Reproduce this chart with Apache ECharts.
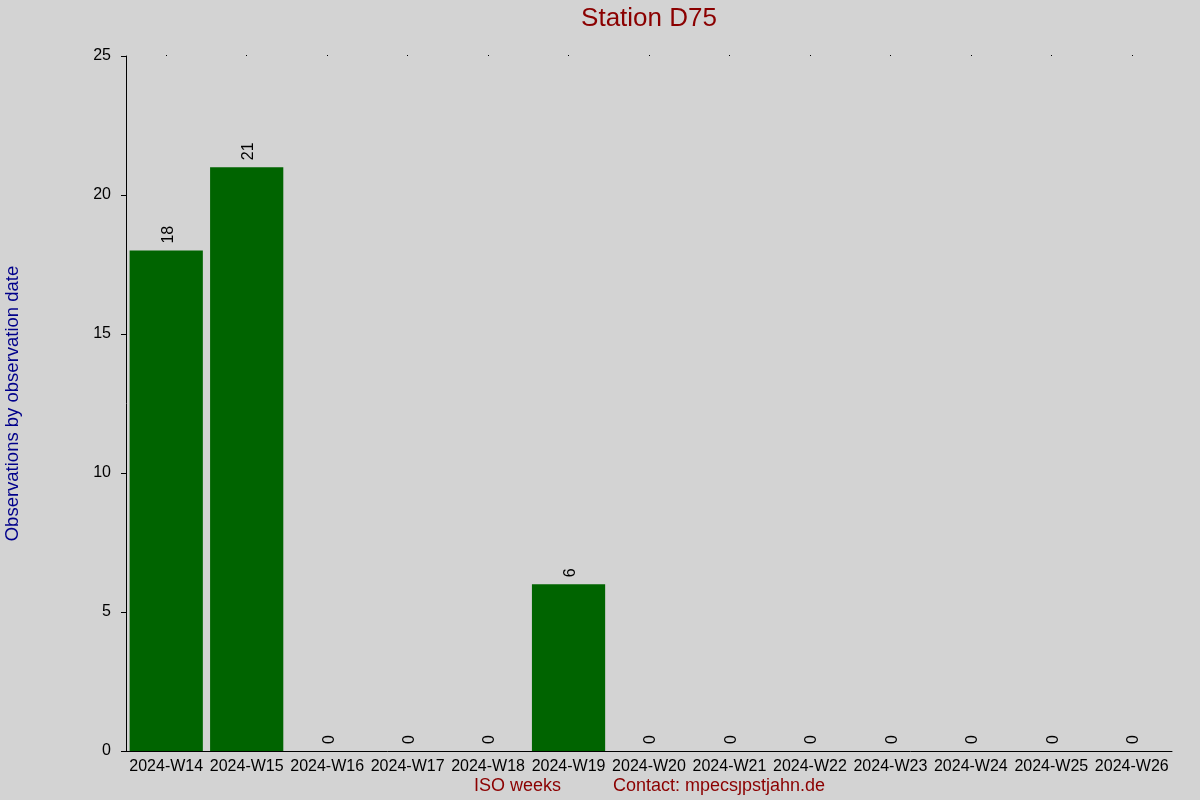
<!DOCTYPE html>
<html>
<head>
<meta charset="utf-8">
<script src="https://cdn.jsdelivr.net/npm/echarts@6/dist/echarts.min.js"></script>
<style>
html,body{margin:0;padding:0;background:#d3d3d3;}
#chart{width:1200px;height:800px;}
</style>
</head>
<body>
<div id="chart"></div>
<script>
const weeks = ["2024-W14","2024-W15","2024-W16","2024-W17","2024-W18","2024-W19","2024-W20","2024-W21","2024-W22","2024-W23","2024-W24","2024-W25","2024-W26"];
const observations = [18,21,0,0,0,6,0,0,0,0,0,0,0];
const yTicks = {min:0, max:25, interval:5};
const titleText = "Station D75";
const yName = "Observations by observation date";
const xName = "ISO weeks";
const contactText = "Contact: mpecs\u0237pstjahn.de";

const chart = echarts.init(document.getElementById('chart'));
const font = "Liberation Sans, Arial, sans-serif";
chart.setOption({
  backgroundColor: '#d3d3d3',
  animation: false,
  textStyle: {fontFamily: font},
  grid: {left: 126, right: 28, top: 56, bottom: 49, containLabel: false, outerBoundsMode: 'none'},
  xAxis: [{
    type: 'category', data: weeks, position: 'bottom',
    axisLine: {show: true, lineStyle: {color: '#000', width: 1}},
    axisTick: {show: false},
    axisLabel: {color: '#000', fontSize: 16, margin: 8, fontFamily: font, interval: 0}
  }, {
    type: 'category', data: weeks, position: 'top',
    axisLine: {show: false},
    axisTick: {show: true, alignWithLabel: true, length: 1, lineStyle: {color: '#000', width: 1}},
    axisLabel: {show: false}
  }],
  yAxis: {
    type: 'value', min: yTicks.min, max: yTicks.max, interval: yTicks.interval,
    name: yName, nameLocation: 'middle', nameGap: 104, nameRotate: 90,
    nameTextStyle: {color: '#00008b', fontSize: 18.5, fontFamily: font},
    axisLine: {show: true, lineStyle: {color: '#000', width: 1}},
    axisTick: {show: true, length: 5, lineStyle: {color: '#000'}},
    axisLabel: {color: '#000', fontSize: 16, margin: 15, fontFamily: font},
    splitLine: {show: false}
  },
  series: [{
    type: 'bar', data: observations, xAxisIndex: 0,
    barCategoryGap: '9%',
    itemStyle: {color: '#006400'},
    label: {
      show: true, position: 'top', rotate: 90, align: 'left', verticalAlign: 'middle',
      distance: 7, offset: [0, 2], color: '#000', fontSize: 16, fontFamily: font
    }
  }],
  graphic: [{
    type: 'text', x: 649, y: 19,
    style: {text: titleText, fill: '#8b0000', fontSize: 26, fontFamily: font, align: 'center', verticalAlign: 'middle'}
  }, {
    type: 'text', x: 474, y: 786,
    style: {text: xName, fill: '#8b0000', fontSize: 18, fontFamily: font, verticalAlign: 'middle'}
  }, {
    type: 'text', x: 613, y: 786,
    style: {text: contactText, fill: '#8b0000', fontSize: 18, fontFamily: font, verticalAlign: 'middle'}
  }]
});
</script>
</body>
</html>
